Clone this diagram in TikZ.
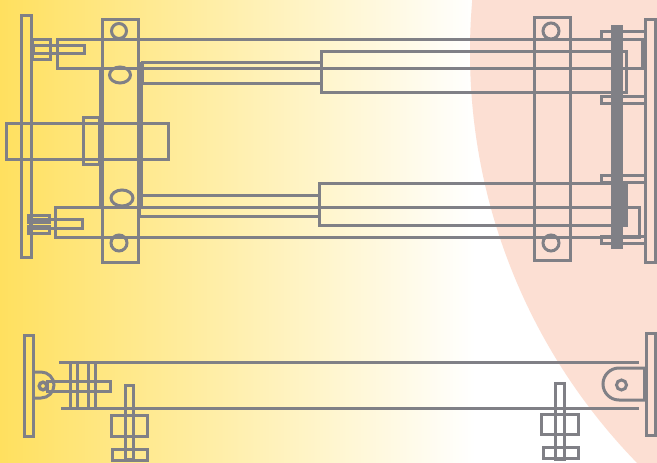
\documentclass[tikz,border=0pt]{standalone}
\usepackage{xcolor}
\definecolor{steel}{HTML}{808086}
\definecolor{sand}{HTML}{FFE05F}
\definecolor{blush}{HTML}{FCDFD3}
\tikzset{
    part/.style={draw=steel, line width=3pt, line join=miter},
    heavy/.style={draw=steel, line width=4.5pt},
    solid bar/.style={fill=steel, draw=none}
}
\begin{document}
\begin{tikzpicture}[x=1pt, y=-1pt]

    \useasboundingbox (0,0) rectangle (657,463);

    % Background
    \fill[white] (0,0) rectangle (657,463);
    \shade[left color=sand, right color=white, shading angle=90, middle color=sand!50!white] (0,0) rectangle (475,463);
    \begin{scope}
        \clip (0,0) rectangle (657,463);
        \fill[blush] (1059,52) circle (589);
    \end{scope}

    % Upper view, plates and columns
    \draw[part] (21,15) rectangle (31,257);
    \draw[part] (645,19) rectangle (655,262);
    \draw[part] (102,19) rectangle (138,262);
    \draw[part] (534,17) rectangle (570,260);
    \draw[part] (119,31) circle (7.5);
    \draw[part] (119,243) circle (8);
    \draw[part] (551,31) circle (8);
    \draw[part] (551,243) circle (8);
    \draw[part] (120,75) ellipse (10.5 and 8);
    \draw[part] (122,198) ellipse (11 and 8);

    % Centre block
    \draw[part] (6,123) rectangle (168,159);
    \draw[part] (83,117) rectangle (99,164);
    \draw[heavy] (101,69) -- (101,207);
    \draw[heavy] (141,62) -- (141,207);

    % Upper arm
    \draw[part] (32,39) rectangle (50,59);
    \draw[part] (33,45) rectangle (84,53);
    \draw[part] (642,68) -- (57,68) -- (57,39) -- (642,39) -- cycle;
    \draw[part] (142,62) rectangle (321,83);
    \draw[part] (321,51) rectangle (626,92);

    % Lower arm
    \draw[part] (28,215) rectangle (49,222);
    \draw[part] (28,226) rectangle (49,233);
    \draw[part] (30,219) rectangle (82,228);
    \draw[part] (639,207) -- (55,207) -- (55,237) -- (639,237) -- cycle;
    \draw[part] (139,195) rectangle (319,216);
    \draw[part] (319,183) rectangle (626,225);

    % Right hand collars and bar
    \draw[part] (601,31) rectangle (645,39);
    \draw[part] (601,96) rectangle (645,103);
    \draw[part] (601,175) rectangle (645,182);
    \draw[part] (601,236) rectangle (645,243);
    \fill[solid bar] (611,25) rectangle (623,249);
    \fill[solid bar] (611,183) rectangle (626,226);

    % Lower view, left end
    \draw[part] (24,335) rectangle (33,436);
    \draw[part] (33,372) -- (41,372) arc (-90:90:13) -- (33,398);
    \draw[part] (47,381) rectangle (110,391);
    \draw[line width=3.4pt, draw=steel] (43,386) circle (3.8);
    \draw[part] (70,362) rectangle (77,408);
    \draw[part] (88,362) rectangle (95,408);

    % Lower view, long rails
    \draw[part] (59,362) -- (639,362);
    \draw[part] (61,408) -- (639,408);

    % Lower view, right end
    \draw[part] (646,333) rectangle (655,435);
    \draw[part] (645,368) -- (619,368) arc (270:90:16) -- (645,400);
    \draw[heavy] (645,368) -- (645,400);
    \draw[part] (621.5,385) circle (5);

    % Clamps
    \draw[part] (125,385) rectangle (133,459);
    \draw[part] (111,415) rectangle (147,436);
    \draw[part] (112,449) rectangle (147,460);
    \draw[part] (555,383) rectangle (564,459);
    \draw[part] (541,414) rectangle (578,434);
    \draw[part] (543,447) rectangle (578,458);

\end{tikzpicture}
\end{document}
